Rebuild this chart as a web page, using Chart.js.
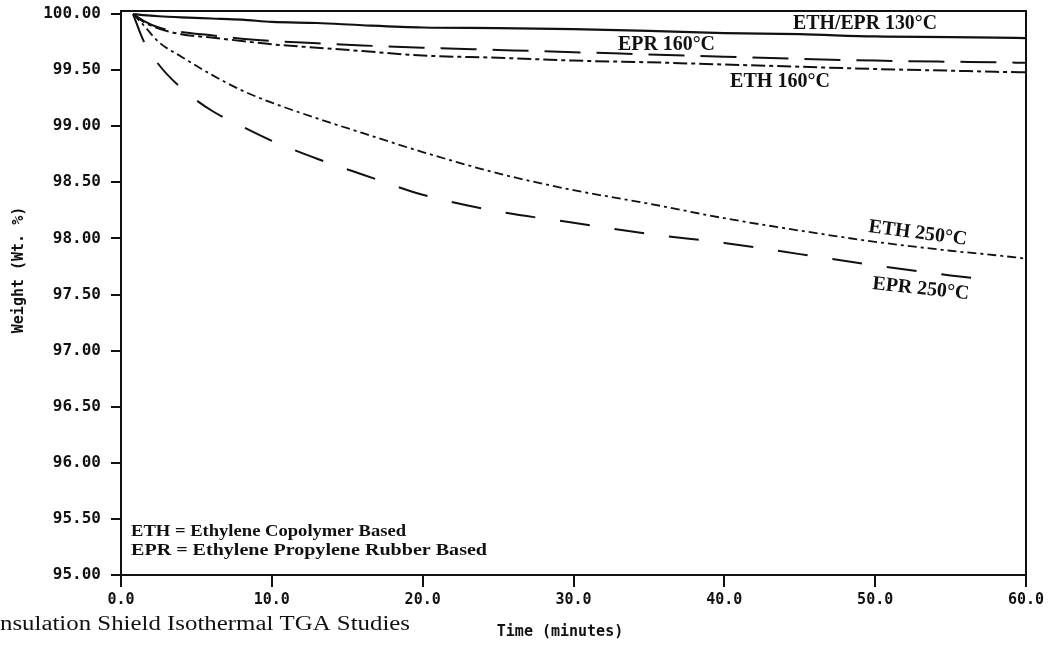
<!DOCTYPE html>
<html>
<head>
<meta charset="utf-8">
<script src="https://cdn.jsdelivr.net/npm/chart.js@4.4.0/dist/chart.umd.min.js"></script>
<style>
  html, body { margin: 0; padding: 0; background: #fff; }
  #wrap { width: 1054px; height: 646px; }
</style>
</head>
<body>
<div id="wrap"><canvas id="grafico" width="1054" height="646"></canvas></div>
<script>
// Tempos (minutos)
const tempos = [0.8, 1.5, 2.5, 4, 6, 8, 10, 13, 16, 20, 25, 30, 35, 40, 45, 50, 55, 58, 60];

// Peso (Wt. %) de cada curva, nos mesmos tempos
const pesoEthEpr130 = [100, 99.99, 99.98, 99.97, 99.96, 99.95, 99.93, 99.92, 99.90, 99.88, 99.875, 99.865, 99.85, 99.83, 99.82, 99.80, 99.795, 99.79, 99.785];
const pesoEpr160 = [100, 99.94, 99.88, 99.84, 99.81, 99.78, 99.76, 99.74, 99.72, 99.70, 99.68, 99.66, 99.64, 99.62, 99.60, 99.585, 99.575, 99.57, 99.565];
const pesoEth160 = [100, 99.93, 99.87, 99.82, 99.79, 99.76, 99.73, 99.70, 99.67, 99.63, 99.61, 99.585, 99.57, 99.55, 99.53, 99.51, 99.495, 99.485, 99.48];
const pesoEth250 = [100, 99.90, 99.75, 99.62, 99.46, 99.32, 99.21, 99.07, 98.94, 98.77, 98.58, 98.43, 98.31, 98.18, 98.07, 97.97, 97.89, 97.85, 97.82];
const pesoEpr250 = [100, 99.76, 99.55, 99.34, 99.14, 99.00, 98.87, 98.71, 98.57, 98.39, 98.24, 98.14, 98.04, 97.96, 97.86, 97.76, 97.67, 97.625, null];

// Marcas dos eixos
const ticksX = [0, 10, 20, 30, 40, 50, 60];
const ticksY = [95, 95.5, 96, 96.5, 97, 97.5, 98, 98.5, 99, 99.5, 100];

// Rótulos das curvas
const rotulosCurvas = ['ETH/EPR 130°C', 'EPR 160°C', 'ETH 160°C', 'ETH 250°C', 'EPR 250°C'];
const legendaLinhas = ['ETH = Ethylene Copolymer Based', 'EPR = Ethylene Propylene Rubber Based'];
const legenda = 'nsulation Shield Isothermal TGA Studies';
const tituloX = 'Time (minutes)';
const tituloY = 'Weight (Wt. %)';

const PRETO = '#111';
const MONO = '"DejaVu Sans Mono", monospace';
const SERIF = '"Liberation Serif", "DejaVu Serif", serif';

// posições dos textos (pixels) e largura alvo
const posRotulos = [
  { x: 793, y: 29, w: 144, a: 0 },
  { x: 618, y: 50, w: 97, a: 0 },
  { x: 730, y: 87, w: 100, a: 0 },
  { x: 868, y: 232, w: 99, a: 7.5 },
  { x: 872, y: 289, w: 97, a: 6 }
];

function serie(valores) {
  return tempos.map((t, i) => ({ x: t, y: valores[i] }));
}

// desenha texto esticado para caber na largura
function textoAjustado(ctx, s, x, y, font, largura, angulo) {
  ctx.save();
  ctx.font = font;
  const m = ctx.measureText(s).width;
  ctx.translate(x, y);
  if (angulo) ctx.rotate(angulo * Math.PI / 180);
  ctx.scale(largura / m, 1);
  ctx.fillText(s, 0, 0);
  ctx.restore();
}

const textosPlugin = {
  id: 'textos',
  afterDraw(chart) {
    const { ctx, chartArea: a } = chart;
    ctx.save();
    // moldura
    ctx.strokeStyle = PRETO;
    ctx.lineWidth = 2;
    ctx.strokeRect(a.left, a.top, a.right - a.left, a.bottom - a.top);

    ctx.fillStyle = PRETO;
    ctx.textBaseline = 'alphabetic';
    ctx.textAlign = 'left';

    rotulosCurvas.forEach((s, i) => {
      const p = posRotulos[i];
      textoAjustado(ctx, s, p.x, p.y, 'bold 20px ' + SERIF, p.w, p.a);
    });

    textoAjustado(ctx, legendaLinhas[0], 131, 536, 'bold 17px ' + SERIF, 275, 0);
    textoAjustado(ctx, legendaLinhas[1], 131, 555, 'bold 17px ' + SERIF, 356, 0);

    textoAjustado(ctx, legenda, 0, 630, '20px ' + SERIF, 410, 0);

    // título eixo x
    ctx.font = 'bold 15px ' + MONO;
    ctx.textAlign = 'center';
    ctx.textBaseline = 'middle';
    ctx.fillText(tituloX, 560, 632);

    // título eixo y
    ctx.save();
    ctx.translate(19, 270);
    ctx.rotate(-Math.PI / 2);
    ctx.fillText(tituloY, 0, 0);
    ctx.restore();

    ctx.restore();
  }
};

function linha(label, valores, dash, largura) {
  return {
    label: label,
    data: serie(valores),
    borderColor: PRETO,
    borderWidth: largura,
    borderDash: dash,
    pointRadius: 0,
    fill: false,
    spanGaps: false,
    cubicInterpolationMode: 'monotone'
  };
}

const ctx = document.getElementById('grafico').getContext('2d');

new Chart(ctx, {
  type: 'line',
  data: {
    datasets: [
      linha('ETH/EPR 130°C', pesoEthEpr130, [], 2.2),
      linha('EPR 160°C', pesoEpr160, [36, 16], 2),
      linha('ETH 160°C', pesoEth160, [14, 4, 4, 4], 2),
      linha('ETH 250°C', pesoEth250, [9, 4, 3, 4], 1.8),
      linha('EPR 250°C', pesoEpr250, [30, 25], 2)
    ]
  },
  options: {
    responsive: false,
    animation: false,
    devicePixelRatio: 1,
    layout: { padding: { left: 0, top: 11, right: 28, bottom: 0 } },
    plugins: {
      legend: { display: false },
      tooltip: { enabled: false },
      title: { display: false }
    },
    scales: {
      x: {
        type: 'linear',
        min: 0,
        max: 60,
        afterFit: s => { s.height = 71; s.paddingLeft = 0; s.paddingRight = 0; },
        afterBuildTicks: s => { s.ticks = ticksX.map(v => ({ value: v })); },
        grid: { drawOnChartArea: false, drawTicks: true, tickLength: 12, color: PRETO, lineWidth: 2 },
        border: { display: true, color: PRETO, width: 2 },
        ticks: {
          color: PRETO,
          padding: 4,
          maxRotation: 0,
          font: { family: MONO, size: 15, weight: 'bold' },
          callback: v => Number(v).toFixed(1)
        }
      },
      y: {
        type: 'linear',
        min: 95,
        max: 100.027,
        afterFit: s => { s.width = 121; s.paddingTop = 0; s.paddingBottom = 0; },
        afterBuildTicks: s => { s.ticks = ticksY.map(v => ({ value: v })); },
        grid: { drawOnChartArea: false, drawTicks: true, tickLength: 10, color: PRETO, lineWidth: 2 },
        border: { display: true, color: PRETO, width: 2 },
        ticks: {
          color: PRETO,
          padding: 10,
          font: { family: MONO, size: 16, weight: 'bold' },
          callback: v => Number(v).toFixed(2)
        }
      }
    }
  },
  plugins: [textosPlugin]
});
</script>
</body>
</html>
